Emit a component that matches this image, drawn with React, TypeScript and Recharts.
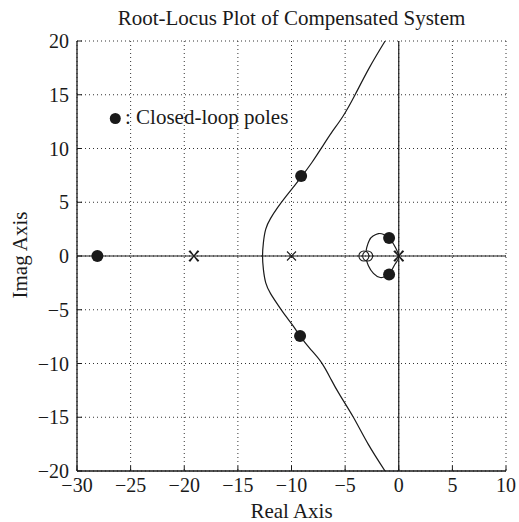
import {
  CartesianGrid,
  ComposedChart,
  Line,
  ReferenceLine,
  Scatter,
  XAxis,
  YAxis,
} from "recharts";

// axis ticks
const xTicks = [-30, -25, -20, -15, -10, -5, 0, 5, 10];
const yTicks = [-20, -15, -10, -5, 0, 5, 10, 15, 20];

// outer branch pair, read from top edge down through the break-away point
const locusBranch = [
  { x: -1.27, y: 20 },
  { x: -2.75, y: 17.5 },
  { x: -4.07, y: 15 },
  { x: -5.2, y: 13 },
  { x: -6.25, y: 11.5 },
  { x: -7.17, y: 10.1 },
  { x: -8.1, y: 8.7 },
  { x: -9.05, y: 7.4 },
  { x: -9.75, y: 6.5 },
  { x: -10.55, y: 5.5 },
  { x: -11.3, y: 4.5 },
  { x: -11.95, y: 3.5 },
  { x: -12.4, y: 2.5 },
  { x: -12.62, y: 1.25 },
  { x: -12.7, y: 0 },
  { x: -12.62, y: -1.25 },
  { x: -12.4, y: -2.5 },
  { x: -11.95, y: -3.5 },
  { x: -11.3, y: -4.5 },
  { x: -10.6, y: -5.5 },
  { x: -9.85, y: -6.5 },
  { x: -9.2, y: -7.45 },
  { x: -8.2, y: -8.7 },
  { x: -7.17, y: -9.96 },
  { x: -6.3, y: -11.5 },
  { x: -5.47, y: -12.97 },
  { x: -4.23, y: -15 },
  { x: -2.85, y: -17.5 },
  { x: -1.28, y: -20 },
];

// small loop between the origin poles and the zeros
const loopBranch = [
  { x: -3.05, y: 0.4 },
  { x: -2.98, y: 0.8 },
  { x: -2.75, y: 1.45 },
  { x: -2.4, y: 1.85 },
  { x: -1.89, y: 2.08 },
  { x: -1.4, y: 2.0 },
  { x: -0.9, y: 1.67 },
  { x: -0.49, y: 1.11 },
  { x: 0, y: 0 },
  { x: -0.34, y: -0.74 },
  { x: -0.9, y: -1.73 },
  { x: -1.35, y: -1.95 },
  { x: -1.73, y: -2.0 },
  { x: -2.36, y: -1.61 },
  { x: -2.83, y: -0.9 },
  { x: -3.0, y: -0.4 },
];

const closedLoopPoles = [
  { x: -28.1, y: 0 },
  { x: -9.1, y: 7.45 },
  { x: -9.2, y: -7.45 },
  { x: -0.9, y: 1.67 },
  { x: -0.9, y: -1.73 },
];
const openLoopPoles = [{ x: -10, y: 0 }];
const doublePoles = [
  { x: -19.1, y: 0 },
  { x: 0, y: 0 },
];
const zeros = [
  { x: -3.25, y: 0 },
  { x: -2.9, y: 0 },
];

const FONT = "'Liberation Serif', 'Times New Roman', serif";
const INK = "#1a1a1a";

const fmt = (v: number) => (v < 0 ? `\u2212${Math.abs(v)}` : `${v}`);

function BottomTick({ x, y, payload }: any) {
  return (
    <g>
      <line x1={x} x2={x} y1={y} y2={y - 5} stroke={INK} />
      <text
        x={x}
        y={y + 21}
        textAnchor="middle"
        fontSize={20}
        style={{ fontFamily: FONT }}
        fill={INK}
      >
        {fmt(payload.value)}
      </text>
    </g>
  );
}

function TopTick({ x, y }: any) {
  return <line x1={x} x2={x} y1={y} y2={y + 5} stroke={INK} />;
}

function LeftTick({ x, y, payload }: any) {
  return (
    <g>
      <line x1={x} x2={x + 5} y1={y} y2={y} stroke={INK} />
      <text
        x={x - 8}
        y={y + 7}
        textAnchor="end"
        fontSize={20}
        style={{ fontFamily: FONT }}
        fill={INK}
      >
        {fmt(payload.value)}
      </text>
    </g>
  );
}

function RightTick({ x, y }: any) {
  return <line x1={x} x2={x - 5} y1={y} y2={y} stroke={INK} />;
}

const FilledPole = ({ cx, cy }: any) => <circle cx={cx} cy={cy} r={6} fill={INK} />;

const CrossMark = ({ cx, cy }: any) => (
  <path
    d={`M${cx - 4.5},${cy - 4.5}L${cx + 4.5},${cy + 4.5}M${cx - 4.5},${cy + 4.5}L${cx + 4.5},${cy - 4.5}`}
    stroke={INK}
    strokeWidth={1.1}
    fill="none"
  />
);

// two coincident poles drawn as overlapping crosses
const DoubleCross = ({ cx, cy }: any) => (
  <path
    d={`M${cx - 5},${cy - 5}L${cx + 5},${cy + 5}M${cx - 5},${cy + 5}L${cx + 5},${cy - 5}M${cx - 4},${cy - 5.5}L${cx + 4},${cy + 5.5}M${cx - 4},${cy + 5.5}L${cx + 4},${cy - 5.5}`}
    stroke={INK}
    strokeWidth={1.1}
    fill="none"
  />
);

const ZeroMark = ({ cx, cy }: any) => (
  <circle cx={cx} cy={cy} r={5} fill="none" stroke={INK} strokeWidth={1.1} />
);

export default function App() {
  return (
    <div style={{ position: "absolute", left: 0, top: 0, width: 519, height: 522, background: "#fff" }}>
      <ComposedChart width={519} height={522} margin={{ top: 41, right: 13, bottom: 0, left: 0 }}>
        <CartesianGrid stroke="#333" strokeDasharray="1 3" />
        <XAxis
          type="number"
          dataKey="x"
          domain={[-30, 10]}
          ticks={xTicks}
          interval={0}
          allowDataOverflow
          height={51}
          tickSize={0}
          tickMargin={0}
          tickLine={false}
          axisLine={{ stroke: INK, strokeWidth: 1.3 }}
          tick={BottomTick}
        />
        <XAxis
          xAxisId="top"
          orientation="top"
          type="number"
          domain={[-30, 10]}
          ticks={xTicks}
          interval={0}
          height={0}
          tickSize={0}
          tickMargin={0}
          tickLine={false}
          axisLine={{ stroke: INK, strokeWidth: 1.3 }}
          tick={TopTick}
        />
        <YAxis
          type="number"
          dataKey="y"
          domain={[-20, 20]}
          ticks={yTicks}
          interval={0}
          allowDataOverflow
          width={77}
          tickSize={0}
          tickMargin={0}
          tickLine={false}
          axisLine={{ stroke: INK, strokeWidth: 1.3 }}
          tick={LeftTick}
        />
        <YAxis
          yAxisId="right"
          orientation="right"
          type="number"
          domain={[-20, 20]}
          ticks={yTicks}
          interval={0}
          width={0}
          tickSize={0}
          tickMargin={0}
          tickLine={false}
          axisLine={{ stroke: INK, strokeWidth: 1.3 }}
          tick={RightTick}
        />
        <ReferenceLine y={0} stroke={INK} strokeWidth={1.2} />
        <ReferenceLine x={0} stroke={INK} strokeWidth={1.2} />
        <Line
          data={locusBranch}
          dataKey="y"
          type="natural"
          stroke={INK}
          strokeWidth={1.2}
          dot={false}
          activeDot={false}
          isAnimationActive={false}
        />
        <Line
          data={loopBranch}
          dataKey="y"
          type="natural"
          stroke={INK}
          strokeWidth={1.2}
          dot={false}
          activeDot={false}
          isAnimationActive={false}
        />
        <Scatter data={zeros} shape={ZeroMark} isAnimationActive={false} />
        <Scatter data={openLoopPoles} shape={CrossMark} isAnimationActive={false} />
        <Scatter data={doublePoles} shape={DoubleCross} isAnimationActive={false} />
        <Scatter data={closedLoopPoles} shape={FilledPole} isAnimationActive={false} />
      </ComposedChart>
      <svg
        width={519}
        height={522}
        style={{ position: "absolute", left: 0, top: 0, pointerEvents: "none", fontFamily: FONT }}
        fill={INK}
      >
        <text x={291.5} y={25} textAnchor="middle" fontSize={21}>
          Root-Locus Plot of Compensated System
        </text>
        <text x={291.5} y={518} textAnchor="middle" fontSize={21}>
          Real Axis
        </text>
        <text x={27} y={255} textAnchor="middle" fontSize={21} transform="rotate(-90 27 255)">
          Imag Axis
        </text>
        <circle cx={115.3} cy={118.5} r={5.5} fill={INK} />
        <text x={125} y={124} fontSize={21}>
          : Closed-loop poles
        </text>
      </svg>
    </div>
  );
}
